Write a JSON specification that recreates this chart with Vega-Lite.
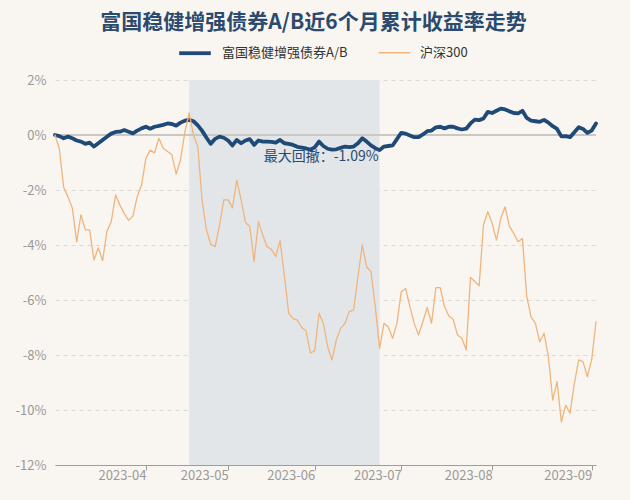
{
  "$schema": "https://vega.github.io/schema/vega-lite/v6.json",
  "width": 541,
  "height": 385,
  "autosize": "none",
  "padding": {"left": 55, "top": 80, "right": 34, "bottom": 35},
  "background": "#f9f6f1",
  "config": {
    "view": {"stroke": null},
    "font": "Noto Sans CJK SC",
    "legend": {"labelFont": "Noto Sans CJK SC"},
    "axis": {"labelFont": "Noto Sans CJK SC"}
  },
  "title": {
    "text": "富国稳健增强债券A/B近6个月累计收益率走势",
    "fontSize": 21,
    "fontWeight": "bold",
    "color": "#2b4a6e",
    "anchor": "middle",
    "dx": -12,
    "offset": 2
  },
  "datasets": {
    "dd": [{"s": "2023-04-18", "e": "2023-06-26", "t": "最大回撤：-1.09%"}],
    "main": [
      {"d": "2023-03-03", "富国稳健增强债券A/B": 0.0, "沪深300": 0.0},
      {"d": "2023-03-06", "富国稳健增强债券A/B": -0.04, "沪深300": -0.5},
      {"d": "2023-03-07", "富国稳健增强债券A/B": -0.12, "沪深300": -1.9},
      {"d": "2023-03-08", "富国稳健增强债券A/B": -0.06, "沪深300": -2.25},
      {"d": "2023-03-09", "富国稳健增强债券A/B": -0.12, "沪深300": -2.65},
      {"d": "2023-03-10", "富国稳健增强债券A/B": -0.2, "沪深300": -3.88},
      {"d": "2023-03-13", "富国稳健增强债券A/B": -0.24, "沪深300": -2.9},
      {"d": "2023-03-14", "富国稳健增强债券A/B": -0.32, "沪深300": -3.45},
      {"d": "2023-03-15", "富国稳健增强债券A/B": -0.28, "沪深300": -3.45},
      {"d": "2023-03-16", "富国稳健增强债券A/B": -0.42, "沪深300": -4.55},
      {"d": "2023-03-17", "富国稳健增强债券A/B": -0.3, "沪深300": -4.1},
      {"d": "2023-03-20", "富国稳健增强债券A/B": -0.18, "沪深300": -4.57},
      {"d": "2023-03-21", "富国稳健增强债券A/B": -0.06, "沪深300": -3.5},
      {"d": "2023-03-22", "富国稳健增强债券A/B": 0.05, "沪深300": -3.15},
      {"d": "2023-03-23", "富国稳健增强债券A/B": 0.11, "沪深300": -2.18},
      {"d": "2023-03-24", "富国稳健增强债券A/B": 0.12, "沪深300": -2.55},
      {"d": "2023-03-27", "富国稳健增强债券A/B": 0.18, "沪深300": -2.85},
      {"d": "2023-03-28", "富国稳健增强债券A/B": 0.12, "沪深300": -3.1},
      {"d": "2023-03-29", "富国稳健增强债券A/B": 0.06, "沪深300": -2.95},
      {"d": "2023-03-30", "富国稳健增强债券A/B": 0.16, "沪深300": -2.24},
      {"d": "2023-03-31", "富国稳健增强债券A/B": 0.24, "沪深300": -1.82},
      {"d": "2023-04-03", "富国稳健增强债券A/B": 0.3, "沪深300": -0.85},
      {"d": "2023-04-04", "富国稳健增强债券A/B": 0.23, "沪深300": -0.55},
      {"d": "2023-04-06", "富国稳健增强债券A/B": 0.3, "沪深300": -0.65},
      {"d": "2023-04-07", "富国稳健增强债券A/B": 0.33, "沪深300": -0.12},
      {"d": "2023-04-10", "富国稳健增强债券A/B": 0.37, "沪深300": -0.48},
      {"d": "2023-04-11", "富国稳健增强债券A/B": 0.42, "沪深300": -0.6},
      {"d": "2023-04-12", "富国稳健增强债券A/B": 0.4, "沪深300": -0.72},
      {"d": "2023-04-13", "富国稳健增强债券A/B": 0.34, "沪深300": -1.42},
      {"d": "2023-04-14", "富国稳健增强债券A/B": 0.45, "沪深300": -0.9},
      {"d": "2023-04-17", "富国稳健增强债券A/B": 0.52, "沪深300": 0.1},
      {"d": "2023-04-18", "富国稳健增强债券A/B": 0.55, "沪深300": 0.8},
      {"d": "2023-04-19", "富国稳健增强债券A/B": 0.5, "沪深300": 0.0},
      {"d": "2023-04-20", "富国稳健增强债券A/B": 0.35, "沪深300": -0.42},
      {"d": "2023-04-21", "富国稳健增强债券A/B": 0.15, "沪深300": -2.4},
      {"d": "2023-04-24", "富国稳健增强债券A/B": -0.1, "沪深300": -3.45},
      {"d": "2023-04-25", "富国稳健增强债券A/B": -0.32, "沪深300": -3.98},
      {"d": "2023-04-26", "富国稳健增强债券A/B": -0.14, "沪深300": -4.06},
      {"d": "2023-04-27", "富国稳健增强债券A/B": -0.06, "沪深300": -3.3},
      {"d": "2023-04-28", "富国稳健增强债券A/B": -0.1, "沪深300": -2.36},
      {"d": "2023-05-04", "富国稳健增强债券A/B": -0.2, "沪深300": -2.36},
      {"d": "2023-05-05", "富国稳健增强债券A/B": -0.38, "沪深300": -2.65},
      {"d": "2023-05-08", "富国稳健增强债券A/B": -0.18, "沪深300": -1.65},
      {"d": "2023-05-09", "富国稳健增强债券A/B": -0.3, "沪深300": -2.36},
      {"d": "2023-05-10", "富国稳健增强债券A/B": -0.2, "沪深300": -3.18},
      {"d": "2023-05-11", "富国稳健增强债券A/B": -0.15, "沪深300": -3.32},
      {"d": "2023-05-12", "富国稳健增强债券A/B": -0.36, "沪深300": -4.6},
      {"d": "2023-05-15", "富国稳健增强债券A/B": -0.2, "沪深300": -3.15},
      {"d": "2023-05-16", "富国稳健增强债券A/B": -0.24, "沪深300": -3.64},
      {"d": "2023-05-17", "富国稳健增强债券A/B": -0.24, "沪深300": -4.06},
      {"d": "2023-05-18", "富国稳健增强债券A/B": -0.25, "沪深300": -4.16},
      {"d": "2023-05-19", "富国稳健增强债券A/B": -0.28, "沪深300": -4.42},
      {"d": "2023-05-22", "富国稳健增强债券A/B": -0.18, "沪深300": -3.84},
      {"d": "2023-05-23", "富国稳健增强债券A/B": -0.3, "沪深300": -5.12},
      {"d": "2023-05-24", "富国稳健增强债券A/B": -0.32, "沪深300": -6.48},
      {"d": "2023-05-25", "富国稳健增强债券A/B": -0.36, "沪深300": -6.68},
      {"d": "2023-05-26", "富国稳健增强债券A/B": -0.43, "沪深300": -6.73},
      {"d": "2023-05-29", "富国稳健增强债券A/B": -0.46, "沪深300": -7.0},
      {"d": "2023-05-30", "富国稳健增强债券A/B": -0.49, "沪深300": -7.12},
      {"d": "2023-05-31", "富国稳健增强债券A/B": -0.53, "沪深300": -7.92},
      {"d": "2023-06-01", "富国稳健增强债券A/B": -0.45, "沪深300": -7.85},
      {"d": "2023-06-02", "富国稳健增强债券A/B": -0.24, "沪深300": -6.48},
      {"d": "2023-06-05", "富国稳健增强债券A/B": -0.4, "沪深300": -6.85},
      {"d": "2023-06-06", "富国稳健增强债券A/B": -0.5, "沪深300": -7.7},
      {"d": "2023-06-07", "富国稳健增强债券A/B": -0.53, "沪深300": -8.18},
      {"d": "2023-06-08", "富国稳健增强债券A/B": -0.52, "沪深300": -7.45},
      {"d": "2023-06-09", "富国稳健增强债券A/B": -0.47, "沪深300": -7.03},
      {"d": "2023-06-12", "富国稳健增强债券A/B": -0.42, "沪深300": -6.85},
      {"d": "2023-06-13", "富国稳健增强债券A/B": -0.44, "沪深300": -6.42},
      {"d": "2023-06-14", "富国稳健增强债券A/B": -0.42, "沪深300": -6.36},
      {"d": "2023-06-15", "富国稳健增强债券A/B": -0.3, "沪深300": -5.15},
      {"d": "2023-06-16", "富国稳健增强债券A/B": -0.12, "沪深300": -4.0},
      {"d": "2023-06-19", "富国稳健增强债券A/B": -0.24, "沪深300": -4.79},
      {"d": "2023-06-20", "富国稳健增强债券A/B": -0.38, "沪深300": -4.97},
      {"d": "2023-06-21", "富国稳健增强债券A/B": -0.48, "沪深300": -6.24},
      {"d": "2023-06-26", "富国稳健增强债券A/B": -0.55, "沪深300": -7.76},
      {"d": "2023-06-27", "富国稳健增强债券A/B": -0.42, "沪深300": -6.85},
      {"d": "2023-06-28", "富国稳健增强债券A/B": -0.4, "沪深300": -6.97},
      {"d": "2023-06-29", "富国稳健增强债券A/B": -0.38, "沪深300": -7.39},
      {"d": "2023-06-30", "富国稳健增强债券A/B": -0.15, "沪深300": -6.85},
      {"d": "2023-07-03", "富国稳健增强债券A/B": 0.08, "沪深300": -5.7},
      {"d": "2023-07-04", "富国稳健增强债券A/B": 0.05, "沪深300": -5.58},
      {"d": "2023-07-05", "富国稳健增强债券A/B": -0.02, "沪深300": -6.24},
      {"d": "2023-07-06", "富国稳健增强债券A/B": -0.08, "沪深300": -6.85},
      {"d": "2023-07-07", "富国稳健增强债券A/B": -0.08, "沪深300": -7.27},
      {"d": "2023-07-10", "富国稳健增强债券A/B": 0.02, "沪深300": -6.79},
      {"d": "2023-07-11", "富国稳健增强债券A/B": 0.14, "沪深300": -6.27},
      {"d": "2023-07-12", "富国稳健增强债券A/B": 0.16, "沪深300": -6.85},
      {"d": "2023-07-13", "富国稳健增强债券A/B": 0.28, "沪深300": -5.55},
      {"d": "2023-07-14", "富国稳健增强债券A/B": 0.3, "沪深300": -5.55},
      {"d": "2023-07-17", "富国稳健增强债券A/B": 0.24, "沪深300": -6.24},
      {"d": "2023-07-18", "富国稳健增强债券A/B": 0.3, "沪深300": -6.58},
      {"d": "2023-07-19", "富国稳健增强债券A/B": 0.3, "沪深300": -6.7},
      {"d": "2023-07-20", "富国稳健增强债券A/B": 0.24, "沪深300": -7.27},
      {"d": "2023-07-21", "富国稳健增强债券A/B": 0.2, "沪深300": -7.39},
      {"d": "2023-07-24", "富国稳健增强债券A/B": 0.23, "沪深300": -7.82},
      {"d": "2023-07-25", "富国稳健增强债券A/B": 0.42, "沪深300": -5.18},
      {"d": "2023-07-26", "富国稳健增强债券A/B": 0.56, "沪深300": -5.33},
      {"d": "2023-07-27", "富国稳健增强债券A/B": 0.54, "沪深300": -5.48},
      {"d": "2023-07-28", "富国稳健增强债券A/B": 0.6, "沪深300": -3.27},
      {"d": "2023-07-31", "富国稳健增强债券A/B": 0.84, "沪深300": -2.79},
      {"d": "2023-08-01", "富国稳健增强债券A/B": 0.8, "沪深300": -3.21},
      {"d": "2023-08-02", "富国稳健增强债券A/B": 0.88, "沪深300": -3.82},
      {"d": "2023-08-03", "富国稳健增强债券A/B": 0.96, "沪深300": -3.03},
      {"d": "2023-08-04", "富国稳健增强债券A/B": 0.93, "沪深300": -2.61},
      {"d": "2023-08-07", "富国稳健增强债券A/B": 0.86, "沪深300": -3.33},
      {"d": "2023-08-08", "富国稳健增强债券A/B": 0.8, "沪深300": -3.58},
      {"d": "2023-08-09", "富国稳健增强债券A/B": 0.79, "沪深300": -3.88},
      {"d": "2023-08-10", "富国稳健增强债券A/B": 0.88, "沪深300": -3.76},
      {"d": "2023-08-11", "富国稳健增强债券A/B": 0.62, "沪深300": -5.88},
      {"d": "2023-08-14", "富国稳健增强债券A/B": 0.52, "沪深300": -6.61},
      {"d": "2023-08-15", "富国稳健增强债券A/B": 0.5, "沪深300": -6.85},
      {"d": "2023-08-16", "富国稳健增强债券A/B": 0.48, "沪深300": -7.52},
      {"d": "2023-08-17", "富国稳健增强债券A/B": 0.55, "沪深300": -7.21},
      {"d": "2023-08-18", "富国稳健增强债券A/B": 0.45, "沪深300": -8.06},
      {"d": "2023-08-21", "富国稳健增强债券A/B": 0.32, "沪深300": -9.64},
      {"d": "2023-08-22", "富国稳健增强债券A/B": 0.22, "沪深300": -8.97},
      {"d": "2023-08-23", "富国稳健增强债券A/B": -0.05, "沪深300": -10.43},
      {"d": "2023-08-24", "富国稳健增强债券A/B": -0.04, "沪深300": -9.82},
      {"d": "2023-08-25", "富国稳健增强债券A/B": -0.08, "沪深300": -10.12},
      {"d": "2023-08-28", "富国稳健增强债券A/B": 0.1, "沪深300": -9.03},
      {"d": "2023-08-29", "富国稳健增强债券A/B": 0.28, "沪深300": -8.18},
      {"d": "2023-08-30", "富国稳健增强债券A/B": 0.22, "沪深300": -8.24},
      {"d": "2023-08-31", "富国稳健增强债券A/B": 0.08, "沪深300": -8.79},
      {"d": "2023-09-01", "富国稳健增强债券A/B": 0.16, "沪深300": -8.18},
      {"d": "2023-09-04", "富国稳健增强债券A/B": 0.42, "沪深300": -6.79}
    ]
  },
  "layer": [
    {
      "data": {"name": "dd"},
      "mark": {"type": "rect", "color": "#e2e6e9"},
      "encoding": {
        "x": {"field": "s", "type": "ordinal"},
        "x2": {"field": "e"}
      }
    },
    {
      "data": {"name": "dd"},
      "mark": {"type": "rule", "color": "#cbc7c2", "strokeWidth": 2},
      "encoding": {"y": {"datum": 0, "type": "quantitative"}}
    },
    {
      "data": {"name": "main"},
      "transform": [{"fold": ["富国稳健增强债券A/B", "沪深300"], "as": ["series", "value"]}],
      "mark": {"type": "line", "strokeJoin": "round", "strokeCap": "round"},
      "encoding": {
        "x": {
          "field": "d",
          "type": "ordinal",
          "scale": {"type": "point", "padding": 0},
          "axis": {
            "values": ["2023-04-03", "2023-05-04", "2023-06-01", "2023-07-03", "2023-08-01", "2023-09-01"],
            "labelExpr": "slice(datum.label, 0, 7)",
            "labelAngle": 0,
            "grid": false,
            "domainColor": "#a09c98",
            "tickColor": "#a09c98",
            "tickSize": 5,
            "labelColor": "#999999",
            "labelFontSize": 13,
            "labelPadding": 5,
            "title": null
          }
        },
        "y": {
          "field": "value",
          "type": "quantitative",
          "scale": {"domain": [-12, 2], "nice": false, "zero": false},
          "axis": {
            "values": [-12, -10, -8, -6, -4, -2, 0, 2],
            "labelExpr": "datum.value + '%'",
            "domain": false,
            "ticks": false,
            "grid": true,
            "gridDash": [4, 4],
            "gridColor": "#dcd8d3",
            "labelColor": "#999999",
            "labelFontSize": 13,
            "labelPadding": 9,
            "title": null
          }
        },
        "color": {
          "field": "series",
          "type": "nominal",
          "scale": {"domain": ["富国稳健增强债券A/B", "沪深300"], "range": ["#1f4a78", "#f0b47c"]},
          "legend": {
            "title": null,
            "orient": "none",
            "direction": "horizontal",
            "legendX": 122,
            "legendY": -45,
            "symbolType": "stroke",
            "symbolSize": 1000,
            "labelFontSize": 13,
            "labelColor": "#333333",
            "labelOffset": 9,
            "columnPadding": 28
          }
        },
        "strokeWidth": {
          "field": "series",
          "type": "nominal",
          "scale": {"domain": ["富国稳健增强债券A/B", "沪深300"], "range": [3.8, 1.3]},
          "legend": {
            "title": null,
            "orient": "none",
            "direction": "horizontal",
            "legendX": 122,
            "legendY": -45,
            "symbolType": "stroke",
            "symbolSize": 1000,
            "labelFontSize": 13,
            "labelColor": "#333333",
            "labelOffset": 9,
            "columnPadding": 28
          }
        },
        "order": {"field": "d"}
      }
    },
    {
      "data": {"name": "dd"},
      "mark": {"type": "text", "align": "right", "baseline": "middle", "fontSize": 14, "color": "#2b4a6e", "dx": -1},
      "encoding": {
        "x": {"field": "e", "type": "ordinal"},
        "y": {"datum": -0.8, "type": "quantitative"},
        "text": {"field": "t"}
      }
    }
  ]
}
